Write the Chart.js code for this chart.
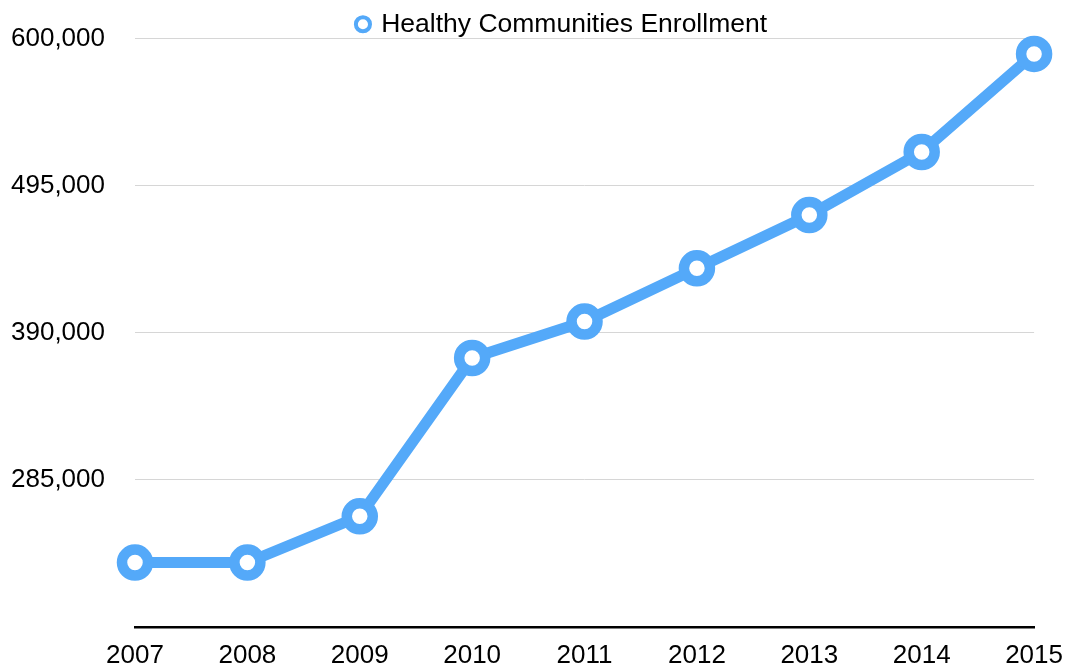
<!DOCTYPE html>
<html>
<head>
<meta charset="utf-8">
<script src="https://cdn.jsdelivr.net/npm/chart.js@4/dist/chart.umd.min.js"></script>
<style>
  html, body { margin: 0; padding: 0; background: #fff; }
  #wrap { width: 1068px; height: 667px; }
</style>
</head>
<body>
<div id="wrap"><canvas id="enroll-chart"></canvas></div>
<script>
'use strict';

// data
const years = ['2007', '2008', '2009', '2010', '2011', '2012', '2013', '2014', '2015'];
const enrollment = [226000, 226000, 259000, 372000, 398000, 436000, 474000, 519000, 589000];
const yTicks = [180000, 285000, 390000, 495000, 600000];

const BLUE = '#54A9F9';
const FONT = { family: '"Liberation Sans", Arial, Helvetica, sans-serif', size: 26 };

// nudge the legend right/down, like the original
const legendShift = {
  id: 'legendShift',
  afterLayout(chart) {
    if (!chart.legend) return;
    chart.legend.left += 86;
    chart.legend.top += 9;
  }
};

new Chart(document.getElementById('enroll-chart'), {
  type: 'line',
  data: {
    labels: years,
    datasets: [{
      label: 'Healthy Communities Enrollment',
      data: enrollment,
      borderColor: BLUE,
      backgroundColor: '#fff',
      borderWidth: 11,
      pointRadius: 13,
      pointHoverRadius: 13,
      pointBorderWidth: 10.5,
      pointBackgroundColor: '#fff',
      pointBorderColor: BLUE,
      tension: 0,
      clip: false,
    }],
  },
  options: {
    responsive: true,
    maintainAspectRatio: false,
    animation: false,
    layout: { padding: { top: 1, right: 29, bottom: 0, left: 0 } },
    plugins: {
      tooltip: { enabled: false },
      legend: {
        position: 'top',
        labels: {
          color: '#000',
          font: { ...FONT, size: 26.5 },
          usePointStyle: true,
          pointStyle: 'circle',
          boxWidth: 10,
          boxHeight: 10,
          padding: 1,
          generateLabels: (chart) => Chart.defaults.plugins.legend.labels.generateLabels(chart)
            .map(l => ({ ...l, lineWidth: 4, fillStyle: '#fff', strokeStyle: BLUE })),
        },
      },
    },
    scales: {
      x: {
        offset: false,
        afterFit: (scale) => { scale.height = 40; scale.paddingBottom = 0; },
        grid: { display: false },
        border: { display: true, color: '#000', width: 2.5 },
        ticks: { color: '#000', font: FONT, padding: 5, maxRotation: 0 },
      },
      y: {
        min: yTicks[0],
        max: yTicks[yTicks.length - 1],
        afterBuildTicks: (scale) => { scale.ticks = yTicks.map(v => ({ value: v })); },
        afterFit: (scale) => { scale.width = 135; scale.paddingTop = 0; scale.paddingBottom = 0; },
        border: { display: false },
        grid: { color: '#d6d6d6', lineWidth: 1, drawTicks: false },
        ticks: {
          color: '#000',
          font: FONT,
          padding: 30,
          callback: (v) => v === yTicks[0] ? '' : v.toLocaleString('en-US'),
        },
      },
    },
  },
  plugins: [legendShift],
});
</script>
</body>
</html>
